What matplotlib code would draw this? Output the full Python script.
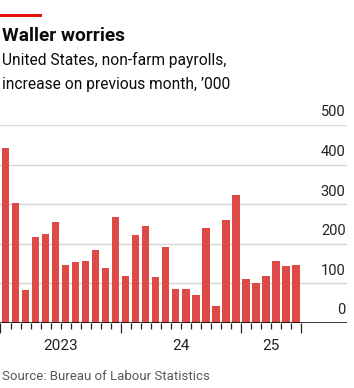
import matplotlib
matplotlib.use("Agg")
import matplotlib.pyplot as plt
import numpy as np

# monthly change in non-farm payrolls, '000, Jan 2023 - Jun 2025
payrolls = [442, 304, 84, 216, 226, 255, 147, 155, 157, 185, 139, 268,
            118, 221, 244, 117, 192, 86, 87, 70, 239, 42, 260, 322,
            110, 101, 119, 157, 144, 147]
year_labels = ["2023", "24", "25"]
year_months = [12, 12, 6]
y_ticks = [0, 100, 200, 300, 400, 500]

red = "#DE4A45"
plt.rcParams["font.family"] = ["Roboto", "DejaVu Sans"]

W, H = 354, 388
fig = plt.figure(figsize=(W / 100, H / 100), dpi=100)
fig.patch.set_facecolor("white")

# axes placed in pixel terms (top-left origin)
ax_l, ax_r, ax_t, ax_b = 0, 347, 125, 323
ax = fig.add_axes([ax_l / W, 1 - ax_b / H, (ax_r - ax_l) / W, (ax_b - ax_t) / H])

x = np.arange(len(payrolls))
ax.bar(x, payrolls, width=0.73, color=red, zorder=2)

pitch = 10.02
x_left = -5.5 / pitch
ax.set_xlim(x_left, x_left + (ax_r - ax_l) / pitch)
ax.set_ylim(0, 500)

# gridlines + labels sitting above them on the right
for v in y_ticks:
    if v == 0:
        ax.axhline(0, color="black", lw=1.1, zorder=3)
    else:
        ax.axhline(v, color="#d6d6d6", lw=1.0, zorder=1)
    ax.annotate(str(v), xy=(1.0, v), xycoords=("axes fraction", "data"),
                xytext=(-1, 4), textcoords="offset points",
                ha="right", va="bottom", fontsize=10.5, color="#222222")

for s in ax.spines.values():
    s.set_visible(False)
ax.set_yticks([])

# month ticks, longer at the year boundaries
n = len(payrolls)
starts = np.cumsum([0] + year_months)
ax.set_xticks([i - 0.5 for i in range(n + 1) if i not in starts], minor=True)
ax.set_xticks([s - 0.5 for s in starts])
ax.set_xticklabels([])
ax.tick_params(axis="x", which="minor", length=4, width=0.9, color="#222222")
ax.tick_params(axis="x", which="major", length=7, width=0.9, color="#222222")

for lab, s, m in zip(year_labels, starts[:-1], year_months):
    ax.annotate(lab, xy=(s - 0.5 + m / 2, 0), xycoords=("data", "data"),
                xytext=(0, -11.5), textcoords="offset points",
                ha="center", va="top", fontsize=11, color="#222222")

# header
fig.add_artist(plt.Rectangle((0, 1 - 17 / H), 42 / W, 3.5 / H,
                             transform=fig.transFigure, color="#E3120B", lw=0))
fig.text(2 / W, 1 - 36 / H, "Waller worries", fontsize=13.8, fontweight="bold",
         va="center", ha="left", color="#0C0C0C")
fig.text(2 / W, 1 - 60 / H, "United States, non-farm payrolls,", fontsize=11.2,
         va="center", ha="left", color="#0C0C0C")
fig.text(2 / W, 1 - 84 / H, "increase on previous month, \u2019000", fontsize=11.2,
         va="center", ha="left", color="#0C0C0C")
fig.text(2 / W, 1 - 376 / H, "Source: Bureau of Labour Statistics", fontsize=9.5,
         va="center", ha="left", color="#595959")

fig.savefig("out.png", dpi=100)
